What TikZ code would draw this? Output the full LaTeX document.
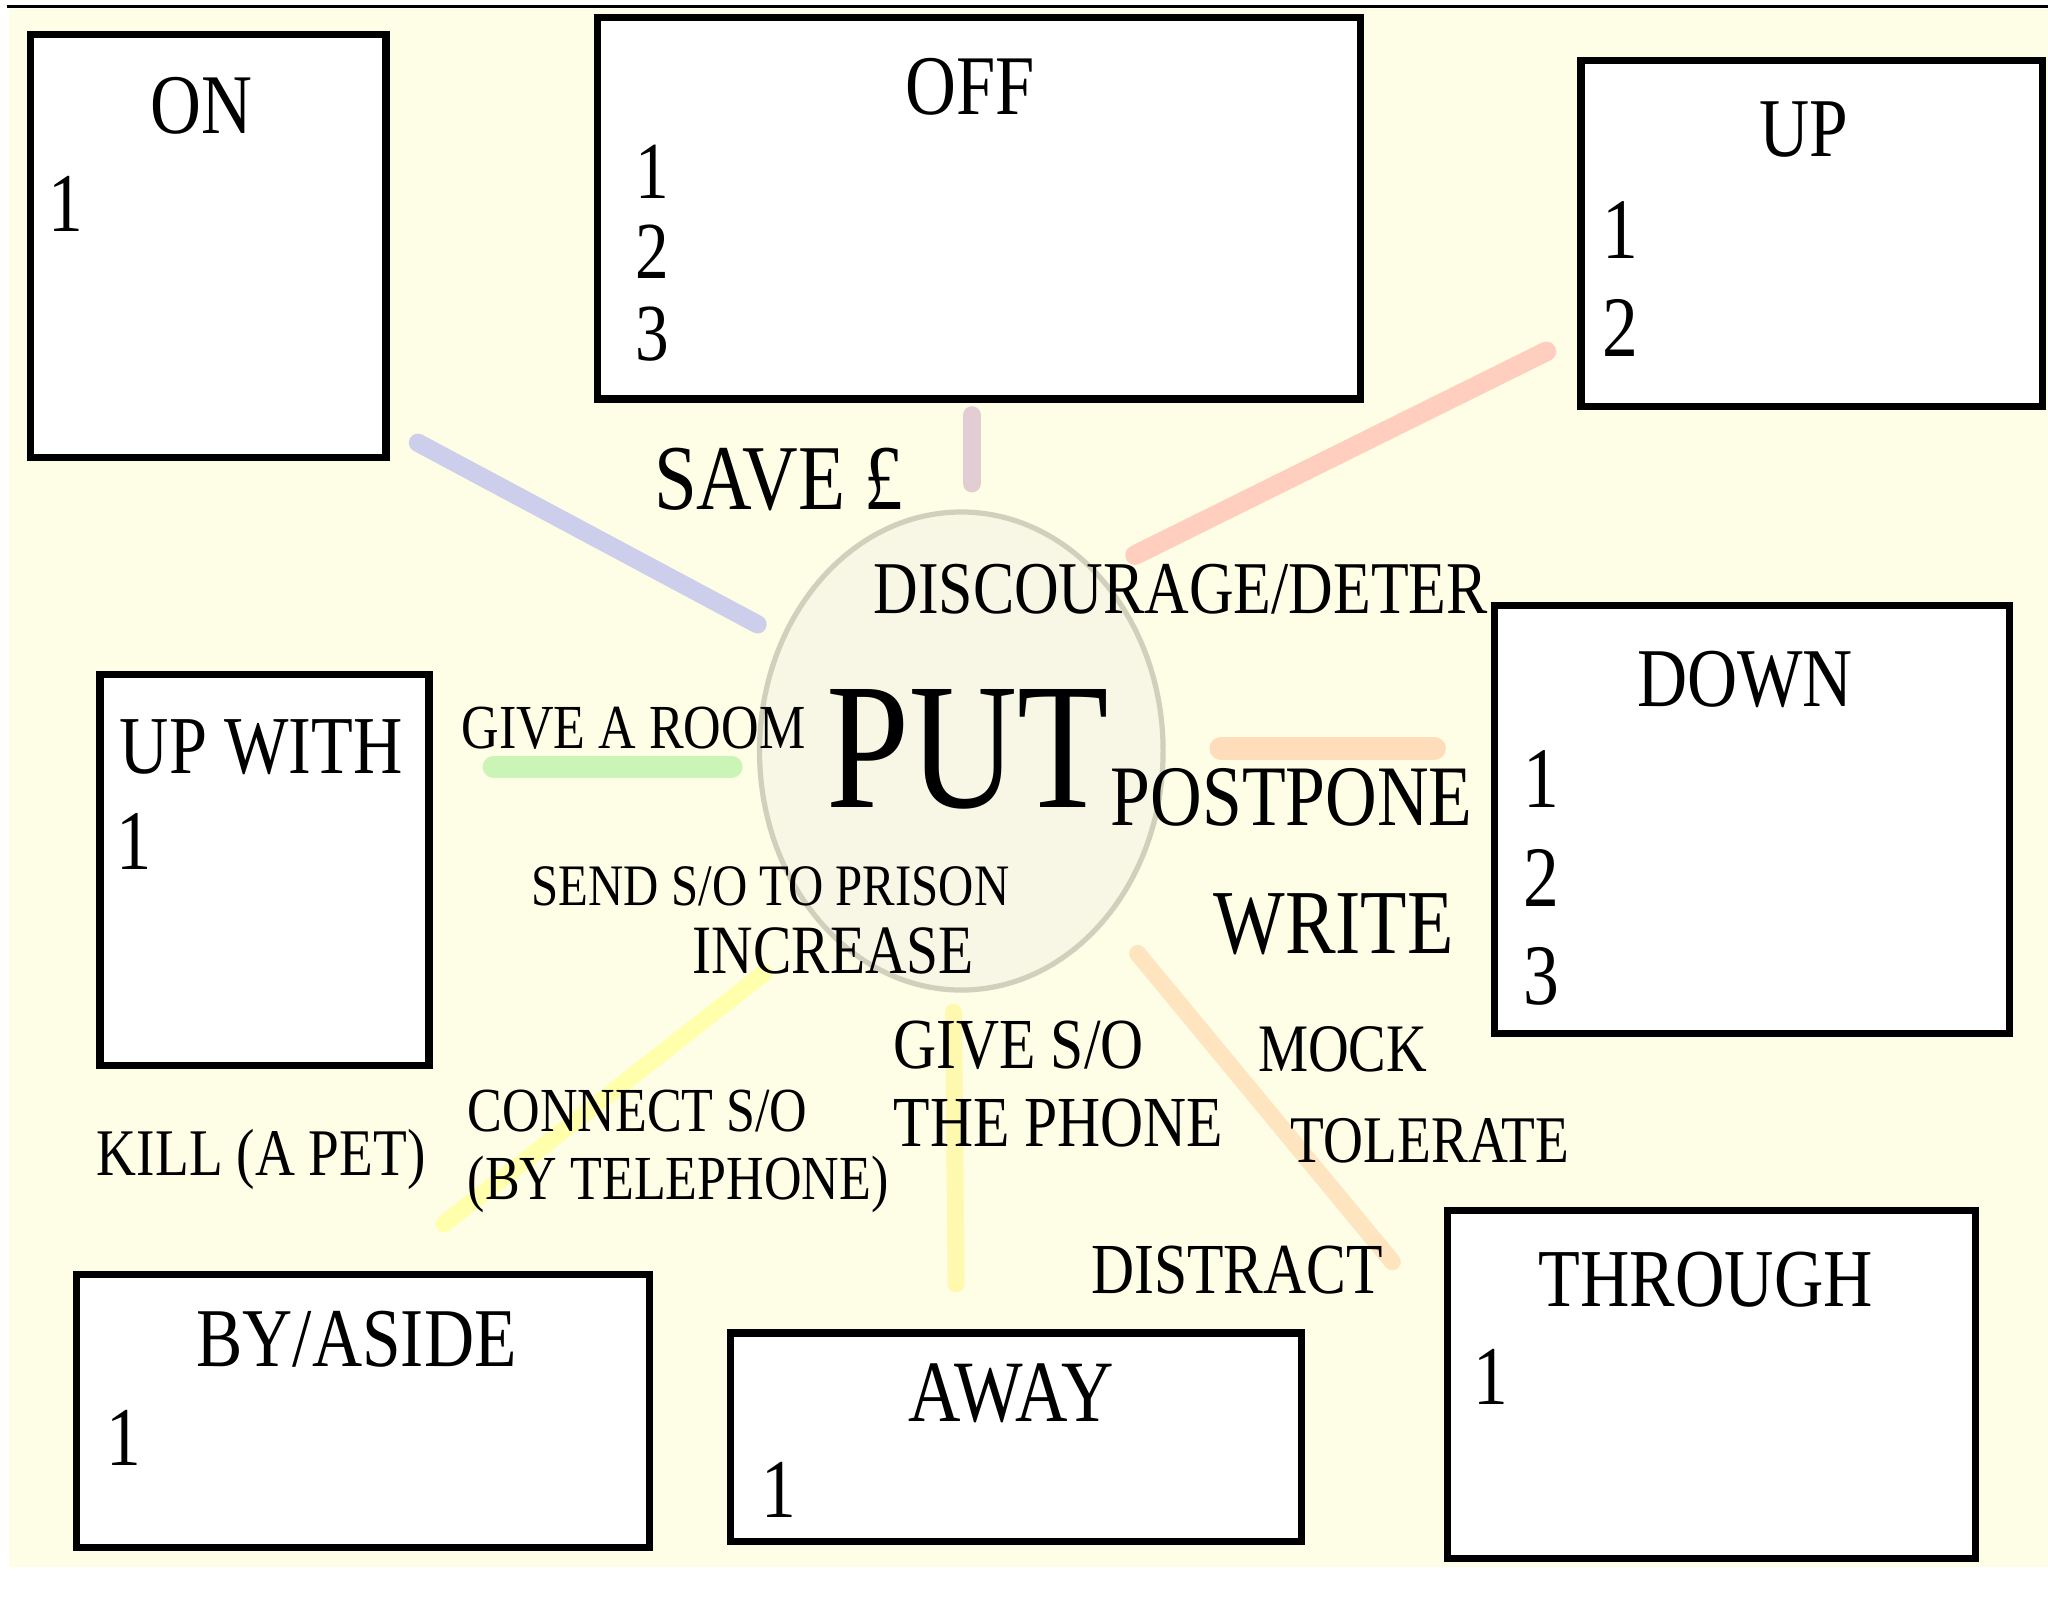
\documentclass[tikz,border=0pt]{standalone}
\usepackage{fontspec}
\setmainfont[FakeStretch=0.83]{Liberation Serif}
\usetikzlibrary{shapes.geometric}
\definecolor{cream}{RGB}{254,253,229}
\definecolor{circline}{RGB}{208,208,188}
\definecolor{circfill}{RGB}{248,246,228}
\definecolor{clav}{RGB}{205,205,236}
\definecolor{cmauve}{RGB}{226,205,210}
\definecolor{csalmon}{RGB}{255,206,190}
\definecolor{cpeach}{RGB}{255,220,186}
\definecolor{cgreen}{RGB}{202,245,182}
\definecolor{cyellow}{RGB}{255,255,172}
\definecolor{cyellowb}{RGB}{255,249,175}
\definecolor{cpeachb}{RGB}{255,228,192}
\tikzset{
  box/.style={draw=black, line width=5.5pt, fill=white, inner sep=0pt},
  lbl/.style={inner sep=0pt, anchor=base, font=\fontsize{#1}{#1}\selectfont},
  lblw/.style={inner sep=0pt, anchor=base west, font=\fontsize{#1}{#1}\selectfont},
  strk/.style={line width=#1, line cap=round},
}
\begin{document}
\begin{tikzpicture}[x=1pt,y=-1pt]
\useasboundingbox (0,0) rectangle (1568,1236);
\fill[white] (0,0) rectangle (1568,1236);
\fill[cream] (7,7) rectangle (1568,1200);
\coordinate (tl) at (5,5);
\coordinate (tr) at (1568,5);
\draw[line width=2pt] (tl) -- (tr);

% connectors
\coordinate (l1a) at (320,339); \coordinate (l1b) at (580,478);
\coordinate (l2a) at (744,318); \coordinate (l2b) at (744,370);
\coordinate (l3a) at (1184,269); \coordinate (l3b) at (869,425);
\coordinate (l4a) at (935,573); \coordinate (l4b) at (1098,573);
\coordinate (l5a) at (378,587); \coordinate (l5b) at (560,587);
\coordinate (l6a) at (585,745); \coordinate (l6b) at (340,937);
\coordinate (l7a) at (730,775); \coordinate (l7b) at (732,983);
\coordinate (l8a) at (871,730); \coordinate (l8b) at (1066,966);
\draw[strk=14pt, clav] (l1a) -- (l1b);
\draw[strk=14pt, cmauve] (l2a) -- (l2b);
\draw[strk=15pt, csalmon] (l3a) -- (l3b);
\draw[strk=18pt, cpeach] (l4a) -- (l4b);
\draw[strk=17pt, cgreen] (l5a) -- (l5b);
\draw[strk=13pt, cyellow] (l6a) -- (l6b);
\draw[strk=13pt, cyellowb] (l7a) -- (l7b);
\draw[strk=13pt, cpeachb] (l8a) -- (l8b);

% hub
\node[ellipse, draw=circline, fill=circfill, line width=4pt, minimum width=309pt, minimum height=366pt] (hub) at (736,575) {};

% boxes
\node[box, minimum width=272pt, minimum height=324pt] (on) at (159.5,188.5) {};
\node[box, minimum width=584pt, minimum height=292pt] (off) at (749.5,159.5) {};
\node[box, minimum width=353pt, minimum height=265pt] (up) at (1387,179) {};
\node[box, minimum width=394pt, minimum height=328pt] (down) at (1341.5,627.5) {};
\node[box, minimum width=252pt, minimum height=299pt] (upwith) at (202.5,666) {};
\node[box, minimum width=439pt, minimum height=209pt] (byaside) at (278,1080) {};
\node[box, minimum width=437pt, minimum height=160pt] (away) at (778,1100.5) {};
\node[box, minimum width=404pt, minimum height=266pt] (through) at (1310.5,1060) {};

% box titles and numbers
\node[lbl=65] (onT) at (154,102) {ON};
\node[lblw=64] (on1) at (37,177) {1};
\node[lbl=65] (offT) at (743,88) {OFF};
\node[lblw=62] (off1) at (486,152) {1};
\node[lblw=62] (off2) at (486,213) {2};
\node[lblw=62] (off3) at (486,276) {3};
\node[lbl=64] (upT) at (1381,120) {UP};
\node[lblw=66] (up1) at (1227,198) {1};
\node[lblw=66] (up2) at (1227,273) {2};
\node[lbl=64] (downT) at (1336,541) {DOWN};
\node[lblw=66] (down1) at (1166,618) {1};
\node[lblw=66] (down2) at (1166,694) {2};
\node[lblw=66] (down3) at (1166,769) {3};
\node[lbl=63] (upwithT) at (200,592) {UP WITH};
\node[lblw=65] (upwith1) at (89,666) {1};
\node[lbl=64] (byasideT) at (273,1046) {BY/ASIDE};
\node[lblw=64] (byaside1) at (81,1122) {1};
\node[lbl=67] (awayT) at (774,1088) {AWAY};
\node[lblw=64] (away1) at (583,1162) {1};
\node[lbl=63] (throughT) at (1306,1000) {THROUGH};
\node[lblw=64] (through1) at (1128,1075) {1};

% free labels
\node[lbl=71] (save) at (596,390) {SAVE £};
\node[lbl=57] (disc) at (904,470) {DISCOURAGE/DETER};
\node[lbl=138] (put) at (741,618) {PUT};
\node[lbl=48] (room) at (485,573) {GIVE A ROOM};
\node[lbl=66] (postpone) at (989,632) {POSTPONE};
\node[lbl=45] (prison) at (590,693) {SEND S/O TO PRISON};
\node[lbl=53] (increase) at (638,745) {INCREASE};
\node[lbl=70] (write) at (1021,730) {WRITE};
\node[lblw=55] (gives) at (684,818) {GIVE S/O};
\node[lblw=55] (phone) at (684,878) {THE PHONE};
\node[lbl=52] (mock) at (1028,820) {MOCK};
\node[lbl=51] (tolerate) at (1095,890) {TOLERATE};
\node[lbl=55] (distract) at (947,990) {DISTRACT};
\node[lbl=51] (kill) at (200,900) {KILL (A PET)};
\node[lblw=48] (connect) at (358,866) {CONNECT S/O};
\node[lblw=48] (tele) at (358,918) {(BY TELEPHONE)};
\end{tikzpicture}
\end{document}
